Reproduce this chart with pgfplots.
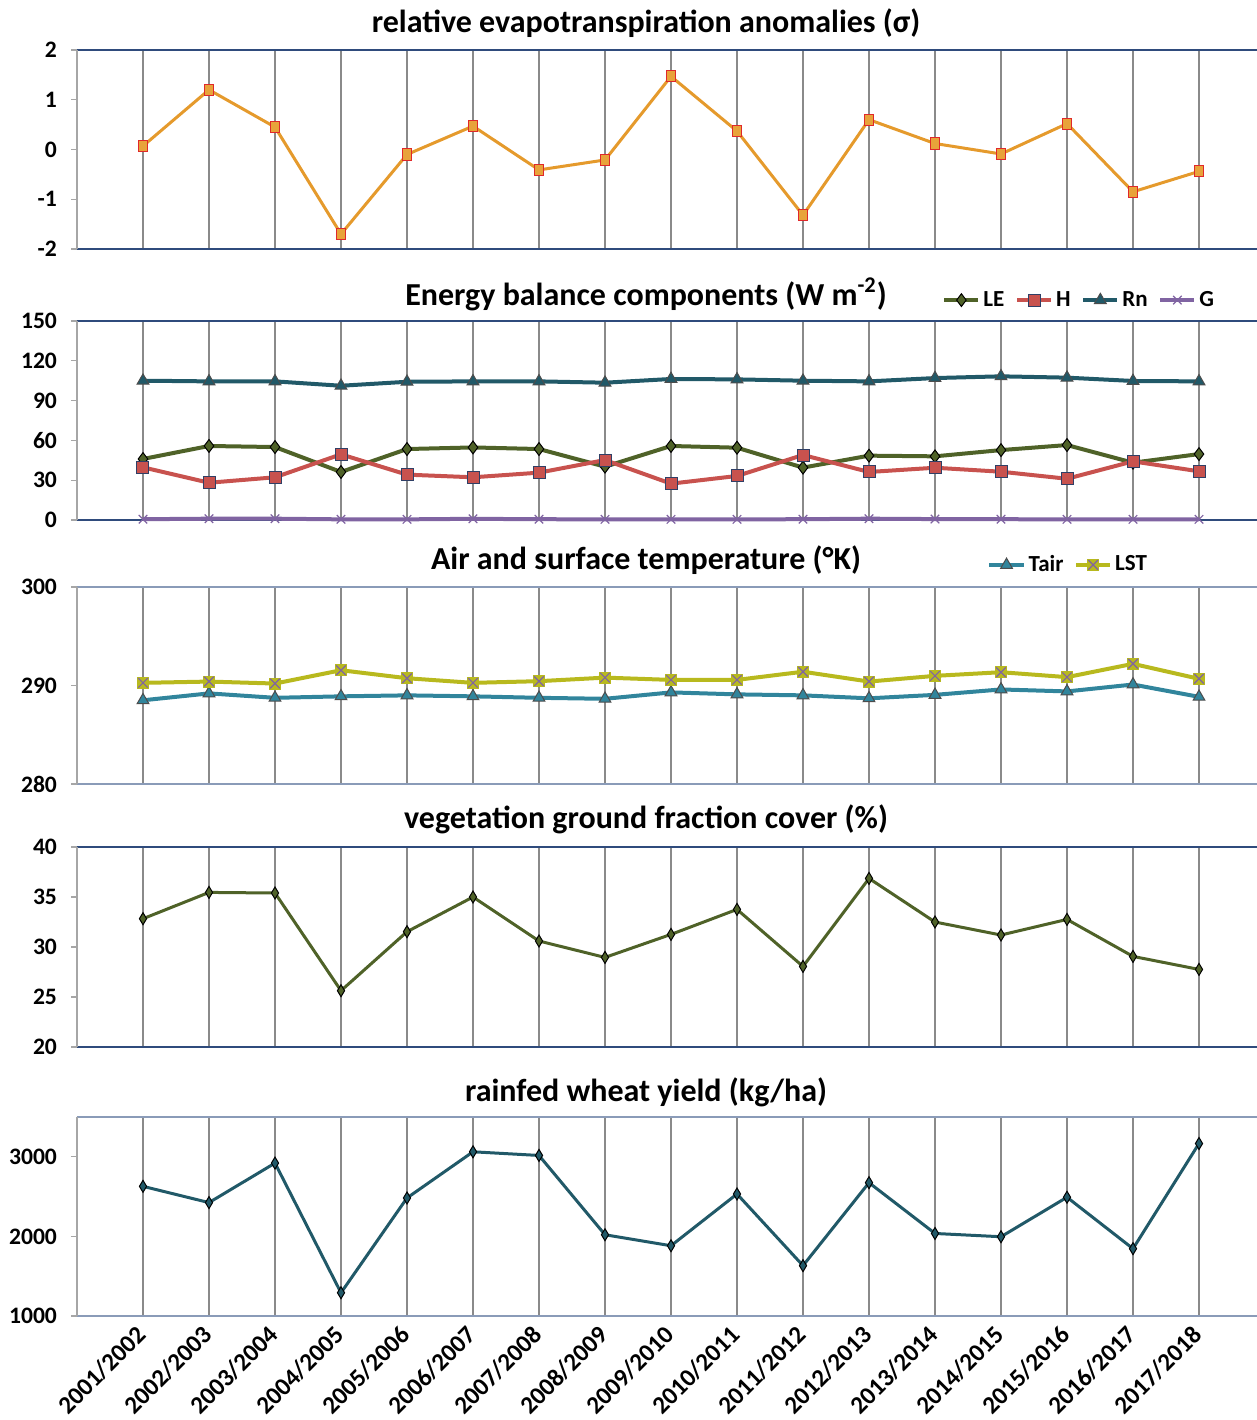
\documentclass[border=0pt]{standalone}
\usepackage{fontspec}
\setmainfont{Carlito}
\usepackage{pgfplots}
\pgfplotsset{compat=1.18}

\definecolor{orangeL}{HTML}{E59A2C}
\definecolor{orangeF}{HTML}{E8A33A}
\definecolor{redB}{HTML}{E0282A}
\definecolor{leC}{HTML}{4F6228}
\definecolor{hC}{HTML}{C8524E}
\definecolor{hB}{HTML}{2F3F66}
\definecolor{rnC}{HTML}{215968}
\definecolor{gC}{HTML}{8064A2}
\definecolor{tairC}{HTML}{31859C}
\definecolor{lstC}{HTML}{B8B91E}
\definecolor{gridC}{HTML}{8A8A8A}
\definecolor{axB}{HTML}{2F4B7C}
\definecolor{axL}{HTML}{8A9BB8}
\definecolor{axG}{HTML}{A6A6A6}

\pgfdeclareplotmark{sqx}{%
  \pgfpathrectangle{\pgfpoint{-\pgfplotmarksize}{-\pgfplotmarksize}}{\pgfpoint{2\pgfplotmarksize}{2\pgfplotmarksize}}%
  \pgfusepathqfill
  \pgfsetstrokecolor{gC}%
  \pgfsetlinewidth{0.6pt}%
  \pgfpathmoveto{\pgfpoint{-0.8\pgfplotmarksize}{-0.8\pgfplotmarksize}}\pgfpathlineto{\pgfpoint{0.8\pgfplotmarksize}{0.8\pgfplotmarksize}}%
  \pgfpathmoveto{\pgfpoint{-0.8\pgfplotmarksize}{0.8\pgfplotmarksize}}\pgfpathlineto{\pgfpoint{0.8\pgfplotmarksize}{-0.8\pgfplotmarksize}}%
  \pgfusepathqstroke
}

\pgfplotsset{
  every axis title shift=0pt,
  panel/.style={
    scale only axis, width=594pt, xmin=0, xmax=18,
    separate axis lines,
    x axis line style={draw=axB, line width=0.6pt},
    y axis line style={draw=axG, line width=0.6pt},
    xtick={1,...,17}, xticklabels={},
    xmajorgrids, grid style={draw=gridC, line width=0.55pt},
    xtick style={draw=none},
    tick align=outside, major tick length=3pt,
    ytick style={draw=axG, line width=0.6pt},
    ytick pos=left,
    yticklabel style={font=\bfseries\fontsize{11.8}{13}\selectfont, anchor=east, xshift=-3.5pt},
    title style={font=\bfseries\fontsize{16}{19}\selectfont, anchor=base, at={(rel axis cs:0.479,1)}},
    legend style={draw=none, fill=none, font=\bfseries\fontsize{11.5}{13}\selectfont,
      nodes={inner xsep=1.5pt},
      /tikz/every even column/.append style={column sep=3.8pt}},
    clip=false,
  }
}

\begin{document}
\begin{tikzpicture}
\useasboundingbox (0,0) rectangle (628.5pt,-710pt);

% Panel 1
\begin{axis}[panel, at={(38.5pt,-25pt)}, anchor=north west, height=99.5pt,
  ymin=-2, ymax=2, ytick={-2,-1,0,1,2}, yticklabels={-2,-1,0,1,2},
  x axis line style={draw=axB, line width=1.2pt},
  title={relative evapotranspiration anomalies (σ)}, title style={yshift=9pt}]
\addplot[orangeL, line width=1.5pt, mark=square*, mark size=2.8pt,
  mark options={fill=orangeF, draw=redB, line width=0.5pt, xscale=0.8}] coordinates {
(1,0.07) (2,1.20) (3,0.45) (4,-1.70) (5,-0.10) (6,0.47) (7,-0.41) (8,-0.21) (9,1.47)
(10,0.37) (11,-1.32) (12,0.60) (13,0.12) (14,-0.09) (15,0.52) (16,-0.85) (17,-0.44)};
\end{axis}

% Panel 2
\begin{axis}[panel, at={(38.5pt,-160.5pt)}, anchor=north west, height=99.5pt,
  ymin=0, ymax=150, ytick={0,30,60,90,120,150}, yticklabels={0,30,60,90,120,150},
  title={Energy balance components (W m\textsuperscript{-2})}, title style={yshift=7.8pt},
  legend columns=4, legend style={at={(rel axis cs:0.723,1.105)}, anchor=west}]
\addplot[leC, line width=2pt, mark=diamond*, mark size=3.2pt,
  mark options={fill=leC, draw=black, line width=0.5pt}] coordinates {
(1,46) (2,55.8) (3,55) (4,36.2) (5,53.5) (6,54.7) (7,53.5) (8,40.2) (9,55.8)
(10,54.5) (11,39.5) (12,48.5) (13,48) (14,52.7) (15,56.5) (16,43.2) (17,49.7)};
\addlegendentry{LE}
\addplot[hC, line width=2pt, mark=square*, mark size=3pt,
  mark options={fill=hC, draw=hB, line width=0.5pt}] coordinates {
(1,39.7) (2,28.1) (3,32.2) (4,49.5) (5,34.2) (6,32.2) (7,35.7) (8,45.2) (9,27.4)
(10,33.2) (11,49) (12,36.2) (13,39.4) (14,36.4) (15,31.1) (16,44.2) (17,36.7)};
\addlegendentry{H}
\addplot[rnC, line width=2pt, mark=triangle*, mark size=3.4pt,
  mark options={fill=rnC, draw=black!70, line width=0.5pt}] coordinates {
(1,105) (2,104.5) (3,104.5) (4,101.2) (5,104.2) (6,104.5) (7,104.5) (8,103.5) (9,106.3)
(10,106) (11,105) (12,104.5) (13,107) (14,108.3) (15,107.3) (16,104.8) (17,104.5)};
\addlegendentry{Rn}
\addplot[gC, line width=2pt, mark=x, mark size=3pt,
  mark options={draw=gC, line width=0.6pt}] coordinates {
(1,0.6) (2,1.0) (3,1.0) (4,0.5) (5,0.5) (6,0.9) (7,0.6) (8,0.5) (9,0.5)
(10,0.5) (11,0.6) (12,1.0) (13,0.7) (14,0.6) (15,0.5) (16,0.5) (17,0.5)};
\addlegendentry{G}
\end{axis}

% Panel 3
\begin{axis}[panel, at={(38.5pt,-293.5pt)}, anchor=north west, height=98.5pt,
  ymin=280, ymax=300, ytick={280,290,300}, yticklabels={280,290,300},
  x axis line style={draw=axL, line width=0.6pt},
  title={Air and surface temperature (°K)}, title style={yshift=9pt},
  legend columns=2, legend style={at={(rel axis cs:0.761,1.112)}, anchor=west}]
\addplot[tairC, line width=2pt, mark=triangle*, mark size=3.4pt,
  mark options={fill=tairC, draw=black!70, line width=0.5pt}] coordinates {
(1,288.5) (2,289.2) (3,288.75) (4,288.9) (5,289.0) (6,288.9) (7,288.75) (8,288.65) (9,289.3)
(10,289.1) (11,289.0) (12,288.7) (13,289.05) (14,289.6) (15,289.4) (16,290.1) (17,288.85)};
\addlegendentry{Tair}
\addplot[lstC, line width=2pt, mark=sqx, mark size=3pt,
  mark options={fill=lstC}] coordinates {
(1,290.27) (2,290.4) (3,290.2) (4,291.55) (5,290.74) (6,290.27) (7,290.44) (8,290.8) (9,290.57)
(10,290.57) (11,291.4) (12,290.4) (13,290.98) (14,291.35) (15,290.85) (16,292.2) (17,290.68)};
\addlegendentry{LST}
\end{axis}

% Panel 4
\begin{axis}[panel, at={(38.5pt,-423.5pt)}, anchor=north west, height=100pt,
  ymin=20, ymax=40, ytick={20,25,30,35,40}, yticklabels={20,25,30,35,40},
  title={vegetation ground fraction cover (\%)}, title style={yshift=9.5pt}]
\addplot[leC, line width=1.5pt, mark=diamond*, mark size=3pt,
  mark options={fill=leC, draw=black, line width=0.5pt, xscale=0.8}] coordinates {
(1,32.83) (2,35.46) (3,35.4) (4,25.63) (5,31.53) (6,35.0) (7,30.6) (8,28.96) (9,31.26)
(10,33.76) (11,28.06) (12,36.86) (13,32.5) (14,31.2) (15,32.76) (16,29.06) (17,27.76)};
\end{axis}

% Panel 5
\begin{axis}[panel, at={(38.5pt,-558.5pt)}, anchor=north west, height=99.5pt,
  ymin=1000, ymax=3500, ytick={1000,2000,3000}, yticklabels={1000,2000,3000},
  x axis line style={draw=axL, line width=0.6pt},
  title={rainfed wheat yield (kg/ha)}, title style={yshift=8pt},
  xticklabels={2001/2002,2002/2003,2003/2004,2004/2005,2005/2006,2006/2007,2007/2008,2008/2009,2009/2010,2010/2011,2011/2012,2012/2013,2013/2014,2014/2015,2015/2016,2016/2017,2017/2018},
  xticklabel style={xshift=0.5pt, yshift=-3pt, rotate=45, anchor=east, inner sep=1.5pt, font=\bfseries\fontsize{12.5}{14}\selectfont}]
\addplot[rnC, line width=1.5pt, mark=diamond*, mark size=3pt,
  mark options={fill=rnC, draw=black, line width=0.5pt, xscale=0.8}] coordinates {
(1,2629) (2,2425) (3,2921) (4,1292) (5,2483) (6,3063) (7,3017) (8,2021) (9,1883)
(10,2533) (11,1633) (12,2675) (13,2037) (14,1996) (15,2492) (16,1846) (17,3167)};
\end{axis}
\end{tikzpicture}
\end{document}
